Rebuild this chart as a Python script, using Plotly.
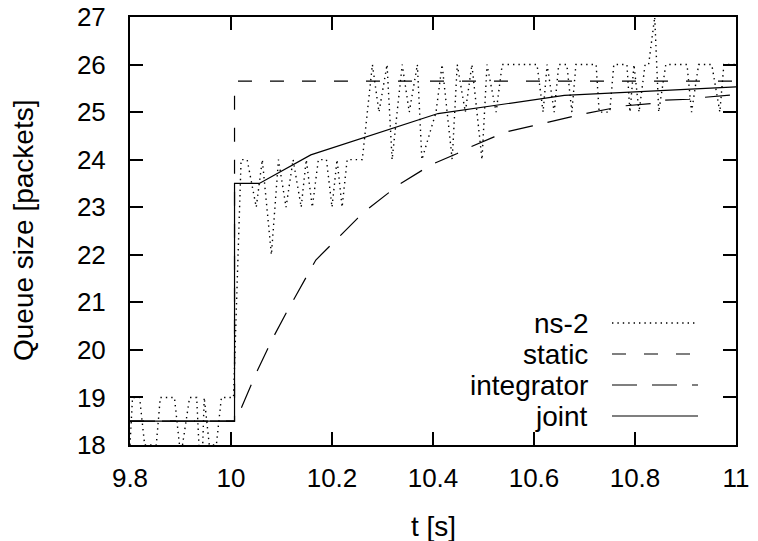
import plotly.graph_objects as go

# ---- data ----
ns2_t = [9.800, 9.805, 9.819, 9.829, 9.852, 9.860, 9.888, 9.898, 9.904, 9.918,
         9.932, 9.941, 9.947, 9.957, 9.971, 9.981, 10.005, 10.020, 10.032, 10.050,
         10.062, 10.080, 10.094, 10.109, 10.123, 10.139, 10.149, 10.161, 10.173, 10.189,
         10.200, 10.210, 10.220, 10.230, 10.260, 10.280, 10.293, 10.309, 10.319, 10.339,
         10.353, 10.369, 10.378, 10.406, 10.418, 10.438, 10.448, 10.464, 10.477, 10.497,
         10.507, 10.525, 10.537, 10.606, 10.618, 10.626, 10.640, 10.649, 10.665, 10.675,
         10.683, 10.723, 10.729, 10.750, 10.758, 10.784, 10.790, 10.798, 10.808, 10.820,
         10.827, 10.839, 10.847, 10.861, 10.903, 10.912, 10.926, 10.952, 10.968, 10.976,
         11.000]
ns2_q = [18, 19, 19, 18, 18, 19, 19, 18, 18, 19,
         19, 17, 19, 18, 18, 19, 19, 24, 24, 23,
         24, 22, 24, 23, 24, 23, 24, 23, 24, 24,
         23, 24, 23, 24, 24, 26, 25, 26, 24, 26,
         25, 26, 24, 25, 26, 24, 26, 25, 26, 24,
         26, 25, 26, 26, 25, 26, 25, 26, 26, 25,
         26, 26, 25, 25, 26, 26, 25, 26, 25, 26,
         26, 27, 25, 26, 26, 25, 26, 26, 25, 26,
         26]

static_t = [9.8, 10.007, 10.007, 11.0]
static_q = [18.5, 18.5, 25.65, 25.65]

integ_t = [9.8, 10.008, 10.020, 10.040, 10.051, 10.073, 10.086, 10.109, 10.140, 10.168,
           10.218, 10.251, 10.273, 10.336, 10.379, 10.402, 10.448, 10.475, 10.521, 10.547,
           10.597, 10.623, 10.673, 10.702, 10.752, 10.778, 10.831, 10.857, 10.907, 10.936,
           11.0]
integ_q = [18.5, 18.5, 18.77, 19.26, 19.54, 20.03, 20.31, 20.77, 21.35, 21.89,
           22.42, 22.77, 22.98, 23.50, 23.78, 23.92, 24.13, 24.27, 24.48, 24.59,
           24.71, 24.78, 24.90, 24.97, 25.08, 25.13, 25.18, 25.25, 25.27, 25.31,
           25.37]

joint_t = [9.8, 10.007, 10.007, 10.056, 10.158, 10.41, 10.66, 11.0]
joint_q = [18.5, 18.5, 23.5, 23.5, 24.1, 24.97, 25.35, 25.53]

x_ticks = [9.8, 10.0, 10.2, 10.4, 10.6, 10.8, 11.0]
x_tick_text = ["9.8", "10", "10.2", "10.4", "10.6", "10.8", "11"]
y_ticks = [18, 19, 20, 21, 22, 23, 24, 25, 26, 27]

legend_names = ["ns-2", "static", "integrator", "joint"]
legend_dash = ["1.4px,4px", "14px,18px", "25px,15px", "solid"]
legend_width = [1.4, 1.2, 1.2, 1.2]

FONT = "Liberation Sans"
FS_TICK = 26
FS_TEXT = 28

fig = go.Figure()
fig.add_trace(go.Scatter(x=ns2_t, y=ns2_q, mode="lines",
                         line=dict(color="black", width=1.4, dash="1.4px,4px")))
fig.add_trace(go.Scatter(x=static_t, y=static_q, mode="lines",
                         line=dict(color="black", width=1.2, dash="14px,18px")))
fig.add_trace(go.Scatter(x=integ_t, y=integ_q, mode="lines",
                         line=dict(color="black", width=1.2, dash="25px,15px")))
fig.add_trace(go.Scatter(x=joint_t, y=joint_q, mode="lines",
                         line=dict(color="black", width=1.2)))

# page has an 8px body margin: figure is placed at (8, 8)
OFF = 8
W, H = 758 - OFF, 541 - OFF
ml, mt = 130 - OFF, 17 - OFF
mr = W - (736 - OFF)
mb = H - (445 - OFF)
pw, ph = W - ml - mr, H - mt - mb

def px(xp):  # page pixel -> paper
    return (xp - OFF - ml) / pw

def py(yp):
    return (H - mb - (yp - OFF)) / ph

annotations = []
shapes = []
row_y = [323, 354, 385, 416]
for name, dash, lw, ry in zip(legend_names, legend_dash, legend_width, row_y):
    annotations.append(dict(x=px(590), y=py(ry), xref="paper", yref="paper",
                            text=name, showarrow=False, xanchor="right", yanchor="middle",
                            font=dict(family=FONT, size=FS_TEXT, color="black")))
    shapes.append(dict(type="line", xref="paper", yref="paper",
                       x0=px(612), x1=px(698), y0=py(ry), y1=py(ry),
                       line=dict(color="black", width=lw, dash=dash)))

annotations.append(dict(x=0.5, y=py(526), xref="paper", yref="paper", text="t [s]",
                        showarrow=False, xanchor="center", yanchor="middle",
                        font=dict(family=FONT, size=FS_TEXT, color="black")))
annotations.append(dict(x=px(23), y=0.5, xref="paper", yref="paper",
                        text="Queue size [packets]", textangle=-90, borderpad=0,
                        showarrow=False, xanchor="center", yanchor="middle",
                        font=dict(family=FONT, size=28, color="black")))

axis_common = dict(showgrid=False, zeroline=False, showline=True, linecolor="black",
                   linewidth=2, mirror="ticks", ticks="inside", ticklen=13, tickwidth=2,
                   tickcolor="black", automargin=False, ticklabeloverflow="allow",
                   tickfont=dict(family=FONT, size=FS_TICK, color="black"))

fig.update_layout(
    width=W, height=H,
    margin=dict(l=ml, r=mr, t=mt, b=mb, autoexpand=False),
    paper_bgcolor="white", plot_bgcolor="white",
    showlegend=False,
    xaxis=dict(range=[9.8, 11.0], tickvals=x_ticks, ticktext=x_tick_text,
               ticklabelstandoff=9, **axis_common),
    yaxis=dict(range=[18, 27], tickvals=y_ticks, ticklabelstandoff=17, **axis_common),
    annotations=annotations, shapes=shapes,
)

fig.write_html("out.html")
